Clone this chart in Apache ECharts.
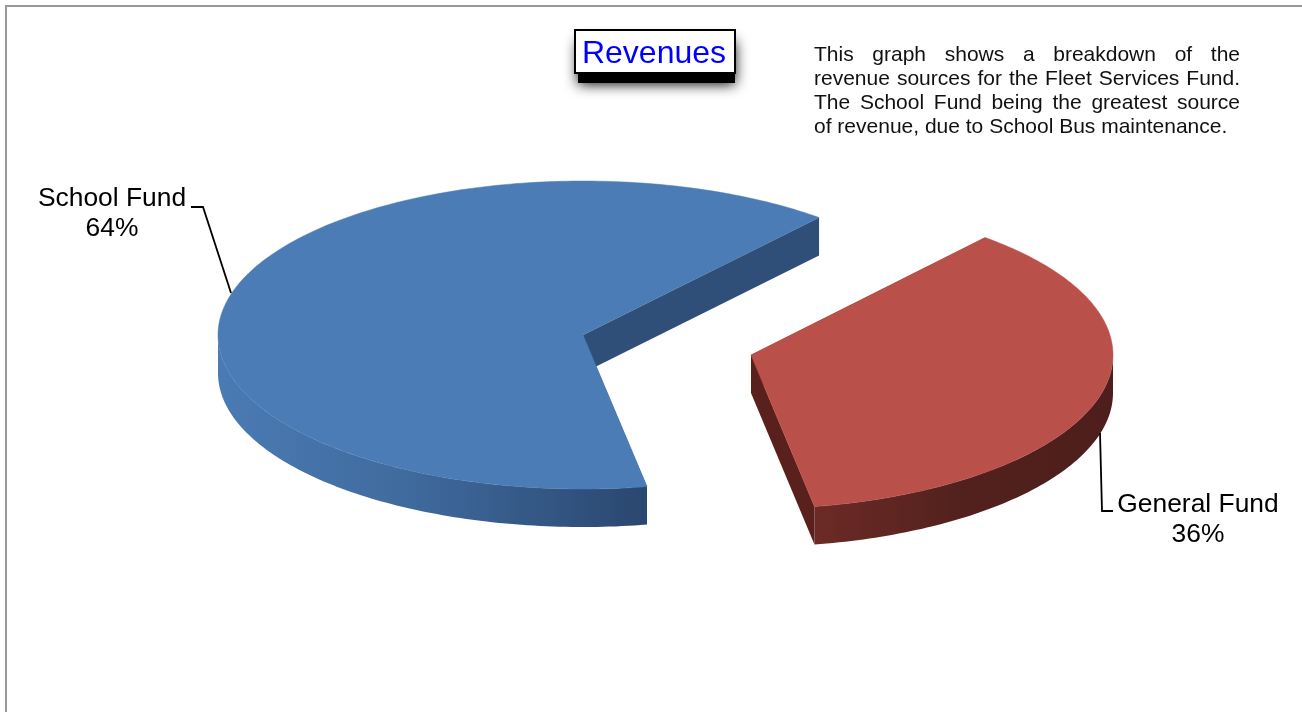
<!DOCTYPE html>
<html>
<head>
<meta charset="utf-8">
<title>Revenues</title>
<style>html,body{margin:0;padding:0;background:#fff}#chart{width:1302px;height:712px}</style>
<script src="https://cdn.jsdelivr.net/npm/echarts@6/dist/echarts.min.js"></script>
</head>
<body>
<div id="chart"></div>
<script>
// Revenue sources of the Fleet Services Fund
const funds = ['School Fund', 'General Fund'];
const shares = [64, 36];
const titleText = 'Revenues';
const noteLines = [
  'This graph shows a breakdown of the',
  'revenue sources for the Fleet Services Fund.',
  'The School Fund being the greatest source',
  'of revenue, due to School Bus maintenance.'
];

// Tilted-disc geometry of the pie
const FONT = '"Liberation Sans", Arial, sans-serif';
const CX = 583, CY = 335, RY = 154, DEPTH = 38;
const START_DEG = 49.7;
const sliceLooks = [
  { dx: 0, dy: 0, rx: 365, top: '#4b7cb6', wall: '#2f4f78',
    rim: [[0, '#4b7bb4'], [0.45, '#3f6a9d'], [1, '#2a476f']],
    label: [112, 214], leader: [[191, 207], [203, 207], [231, 293]] },
  { dx: 168, dy: 20, rx: 362, top: '#b9504a', wall: '#5a201c',
    rim: [[0, '#6c2a26'], [0.5, '#52211d'], [1, '#4d1e1b']],
    label: [1198, 519.5], leader: [[1100, 433], [1102, 511], [1113, 511]] }
];

function rimPoint(cx, cy, rx, deg, drop) {
  const a = deg * Math.PI / 180;
  return [cx + rx * Math.cos(a), cy - RY * Math.sin(a) + drop];
}
function arcPoints(cx, cy, rx, from, to, drop) {
  const pts = [];
  const n = Math.max(2, Math.ceil(Math.abs(to - from)));
  for (let i = 0; i <= n; i++) pts.push(rimPoint(cx, cy, rx, from + (to - from) * i / n, drop));
  return pts;
}

function renderSlice(params, api) {
  const idx = params.dataIndex;
  const look = sliceLooks[idx];
  const total = shares.reduce((s, v) => s + v, 0);
  let before = 0;
  for (let i = 0; i < idx; i++) before += shares[i];
  const from = START_DEG + before / total * 360;
  const to = from + api.value(0) / total * 360;
  const cx = CX + look.dx, cy = CY + look.dy, rx = look.rx;
  const children = [];

  // Cut faces of the wedge, painted first so the top face hides the unseen one
  [from, to].forEach(function (deg) {
    const p = rimPoint(cx, cy, rx, deg, 0);
    children.push({ type: 'polygon', shape: { points: [[cx, cy], p, [p[0], p[1] + DEPTH], [cx, cy + DEPTH]] },
      style: { fill: look.wall } });
  });

  // Curved rim: only the part on the near half of the disc is visible
  for (let k = 0; k < 2; k++) {
    const lo = Math.max(from, 180 + 360 * k), hi = Math.min(to, 360 + 360 * k);
    if (hi <= lo) continue;
    const upper = arcPoints(cx, cy, rx, lo, hi, 0);
    const lower = arcPoints(cx, cy, rx, hi, lo, DEPTH);
    const xs = upper.map(p => p[0]);
    const x0 = Math.min.apply(null, xs), x1 = Math.max.apply(null, xs);
    children.push({ type: 'polygon', shape: { points: upper.concat(lower) },
      style: { fill: new echarts.graphic.LinearGradient(x0, 0, x1, 0,
        look.rim.map(s => ({ offset: s[0], color: s[1] })), true) } });
  }

  // Top face
  children.push({ type: 'polygon',
    shape: { points: [[cx, cy]].concat(arcPoints(cx, cy, rx, from, to, 0)) },
    style: { fill: look.top, stroke: look.top, lineWidth: 0.5 } });

  // Leader and data label
  children.push({ type: 'polyline', shape: { points: look.leader },
    style: { fill: 'none', stroke: '#000', lineWidth: 1.8 } });
  children.push({ type: 'text', x: look.label[0], y: look.label[1],
    style: { text: api.value(1) + '\n' + api.value(0) + '%', font: '26.4px ' + FONT, fill: '#000',
      align: 'center', verticalAlign: 'middle', lineHeight: 30 } });

  return { type: 'group', children: children };
}

// Justified note: each word is placed so the line reaches the right margin
const NOTE_LEFT = 814, NOTE_RIGHT = 1240, NOTE_TOP = 55, NOTE_PITCH = 24.2, NOTE_SIZE = 21;
const measure = document.createElement('canvas').getContext('2d');
measure.font = NOTE_SIZE + 'px ' + FONT;
function noteWords() {
  const out = [];
  noteLines.forEach(function (line, li) {
    const words = line.split(' ');
    const widths = words.map(w => measure.measureText(w).width);
    const sum = widths.reduce((s, v) => s + v, 0);
    const last = li === noteLines.length - 1;
    const gap = last ? measure.measureText(' ').width : (NOTE_RIGHT - NOTE_LEFT - sum) / (words.length - 1);
    let x = NOTE_LEFT;
    words.forEach(function (w, i) {
      out.push({ type: 'text', x: x, y: NOTE_TOP + li * NOTE_PITCH, z: 5,
        style: { text: w, font: NOTE_SIZE + 'px ' + FONT, fill: '#111', align: 'left', verticalAlign: 'middle' } });
      x += widths[i] + gap;
    });
  });
  return out;
}

const chart = echarts.init(document.getElementById('chart'), null, { renderer: 'canvas' });
chart.setOption({
  animation: false,
  backgroundColor: '#fff',
  title: {
    text: titleText, left: 654, top: 54, textAlign: 'center', textVerticalAlign: 'middle', padding: 0,
    textStyle: { color: '#0000ff', fontSize: 32, fontWeight: 'normal', fontFamily: FONT }
  },
  graphic: [
    { type: 'rect', shape: { x: 5, y: 5, width: 1297, height: 2 }, style: { fill: '#999' }, silent: true },
    { type: 'rect', shape: { x: 5, y: 5, width: 2, height: 707 }, style: { fill: '#999' }, silent: true },
    // Drop shadow of the title box, then the box on top of it
    { type: 'rect', z: 1, shape: { x: 578, y: 40, width: 157, height: 43 },
      style: { fill: '#000', shadowColor: '#000', shadowBlur: 14, shadowOffsetX: 0, shadowOffsetY: 1 } },
    { type: 'rect', z: 2, shape: { x: 575, y: 30, width: 160, height: 43 },
      style: { fill: '#fff', stroke: '#000', lineWidth: 2 } }
  ].concat(noteWords()),
  series: [{
    type: 'custom',
    coordinateSystem: 'none',
    renderItem: renderSlice,
    silent: true,
    encode: { value: 0 },
    data: shares.map((v, i) => ({ name: funds[i], value: [v, funds[i]] })),
    dimensions: [{ name: 'share', type: 'number' }, { name: 'fund', type: 'ordinal' }]
  }]
});
</script>
</body>
</html>
